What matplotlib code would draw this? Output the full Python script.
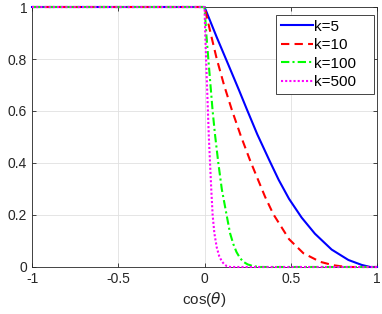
import numpy as np
import matplotlib
matplotlib.use("Agg")
import matplotlib.pyplot as plt

# values
x_k5 = [-1, 0, 0.07, 0.14, 0.2, 0.245, 0.306, 0.376, 0.43, 0.49, 0.563, 0.64, 0.737, 0.834, 0.911, 0.96, 1]
y_k5 = [1, 1, 0.885, 0.775, 0.68, 0.607, 0.51, 0.41, 0.335, 0.262, 0.19, 0.128, 0.067, 0.027, 0.008, 0.0, 0.0]

x_k10 = [-1, 0, 0.035, 0.071, 0.113, 0.158, 0.21, 0.264, 0.351, 0.399, 0.49, 0.573, 0.67, 0.745, 0.82, 1]
y_k10 = [1, 1, 0.90, 0.80, 0.70, 0.605, 0.505, 0.41, 0.27, 0.203, 0.107, 0.053, 0.02, 0.007, 0.0, 0.0]

x_k100 = [-1, 0, 0.010, 0.022, 0.047, 0.061, 0.08, 0.10, 0.128, 0.148, 0.167, 0.185, 0.205,
          0.225, 0.25, 0.283, 0.32, 1]
y_k100 = [1, 1, 0.90, 0.80, 0.60, 0.508, 0.40, 0.30, 0.20, 0.13, 0.088, 0.058, 0.035,
          0.02, 0.01, 0.003, 0.0, 0.0]

x_k500 = [-1, 0, 0.004, 0.009, 0.017, 0.025, 0.032, 0.039, 0.047, 0.057, 0.071, 0.085, 0.10,
          0.115, 0.13, 0.15, 1]
y_k500 = [1, 1, 0.90, 0.80, 0.65, 0.50, 0.40, 0.30, 0.20, 0.13, 0.075, 0.042, 0.022,
          0.01, 0.003, 0.0, 0.0]

labels = ["k=5", "k=10", "k=100", "k=500"]

plt.rcParams['font.family'] = ['Liberation Sans', 'DejaVu Sans']

fig = plt.figure(figsize=(3.82, 3.14), dpi=100)
ax = fig.add_axes([0.0838, 0.1497, 0.9032, 0.828])

common = dict(lw=1.5, clip_on=False, zorder=3)
ax.plot(x_k5, y_k5, color=(0, 0, 1), ls='-', label=labels[0], **common)
ax.plot(x_k10, y_k10, color=(1, 0, 0), ls=(0, (4, 2.5)), label=labels[1], **common)
ax.plot(x_k100, y_k100, color=(0, 1, 0), ls=(0, (4, 1.5, 1, 1.5)), label=labels[2], **common)
ax.plot(x_k500, y_k500, color=(1, 0, 1), ls=(0, (1, 1)), label=labels[3], **common)

ax.set_xlim(-1, 1)
ax.set_ylim(0, 1)
ax.set_xticks([-1, -0.5, 0, 0.5, 1])
ax.set_xticklabels(["-1", "-0.5", "0", "0.5", "1"])
ax.set_yticks([0, 0.2, 0.4, 0.6, 0.8, 1])
ax.set_yticklabels(["0", "0.2", "0.4", "0.6", "0.8", "1"])
ax.tick_params(direction='in', length=3, width=0.6, colors=(0.15, 0.15, 0.15),
               labelsize=10, top=True, right=True)
ax.grid(True, color=(0.88, 0.88, 0.88), lw=0.6)
ax.set_axisbelow(True)
for s in ax.spines.values():
    s.set_color((0.15, 0.15, 0.15))
    s.set_linewidth(0.6)

ax.set_xlabel(r"cos($\theta$)", fontsize=11, color=(0.15, 0.15, 0.15), labelpad=3)

# legend box stretched like MATLAB's, extra room on the right
leg = ax.legend(loc='upper left', bbox_to_anchor=(0.707, 0.654, 0.283, 0.315),
                mode='expand', fontsize=11,
                handlelength=2.1, handletextpad=0.12, labelspacing=0.3,
                borderpad=0.3, borderaxespad=0, fancybox=False, framealpha=1)
leg.get_frame().set_edgecolor((0.15, 0.15, 0.15))
leg.get_frame().set_linewidth(0.6)
leg.set_zorder(5)

fig.savefig("out.png", dpi=100)
